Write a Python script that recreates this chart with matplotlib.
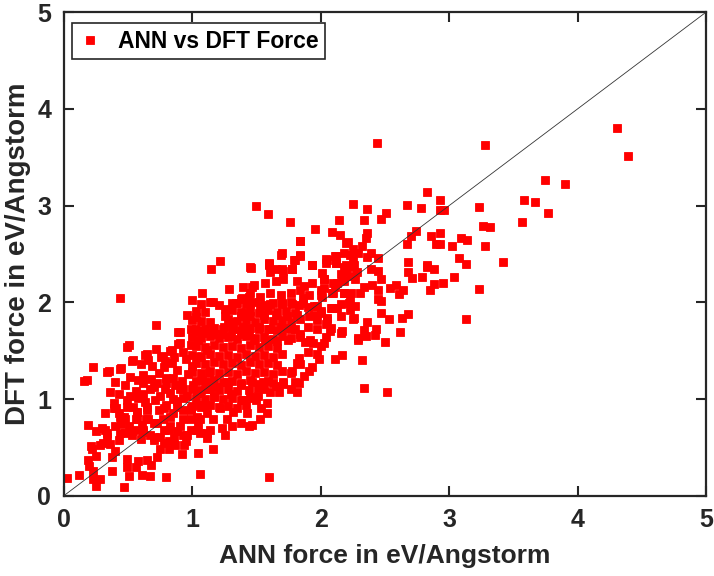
import matplotlib
matplotlib.use("Agg")
import matplotlib.pyplot as plt

# ---- data (ANN force, DFT force) in eV/Angstrom ----
sparse_high = [(3.28,3.63),(4.39,3.51),(4.31,3.80),(3.75,3.26),(3.90,3.22),(3.58,3.06),(3.67,3.04),
    (3.77,2.92),(3.57,2.83),(3.23,2.99),(2.93,3.06),(2.93,2.95),(2.96,2.95),(3.26,2.79),(3.32,2.78),
    (3.09,2.67),(3.14,2.64),(2.93,2.60),(3.02,2.58),(3.28,2.58),(3.08,2.46),(3.13,2.40),(3.42,2.42),
    (3.04,2.26),(2.95,2.20),(3.23,2.14),(3.13,1.83)]

upper_band = [(2.44,3.65),(1.50,3.00),(1.59,2.91),(1.76,2.83),(1.96,2.76),(2.25,3.02),(2.36,2.97),
    (2.14,2.85),(2.34,2.85),(2.51,2.92),(2.47,2.86),(2.67,3.01),(2.78,2.98),(2.83,3.14),(2.09,2.73),
    (2.15,2.70),(2.36,2.72),(2.35,2.67),(1.84,2.63),(2.20,2.61),(2.32,2.58),(2.25,2.55),(2.74,2.74),
    (2.70,2.69),(2.86,2.69),(2.93,2.72),(2.67,2.60),(2.90,2.60),(1.69,2.49),(1.84,2.48),(1.80,2.44),
    (2.04,2.45),(2.11,2.48),(2.18,2.51),(2.12,2.41),(2.25,2.43),(2.36,2.47),(2.39,2.51),(2.45,2.46),
    (2.68,2.42),(2.83,2.39),(1.60,2.40),(1.93,2.39)]

left_upper = [(1.15,2.35),(1.22,2.43),(1.46,2.36),(0.44,2.05),(1.29,2.14),(1.08,2.10),(1.00,2.02),
    (1.16,2.00),(1.40,2.16),(1.47,2.16),(1.38,2.04),(1.44,2.06),(1.31,1.99),(1.26,1.93),(1.26,1.86),
    (0.72,1.77),(0.96,1.87),(1.03,1.85),(1.14,1.80),(1.16,1.73),(0.89,1.69),(0.99,1.72),(1.05,1.70),
    (0.49,1.54),(0.63,1.46),(0.76,1.44),(0.83,1.50),(0.89,1.57),(0.53,1.39),(0.23,1.33),(0.34,1.28),
    (0.44,1.31),(0.16,1.19),(1.31,1.80),(1.38,1.86),(1.43,1.89),(1.25,1.75),(1.32,1.72),(1.40,1.75),
    (1.17,1.67),(1.23,1.67),(1.30,1.65),(1.38,1.67),(1.44,1.67),(1.34,1.99),(1.39,2.05)]

right_mid = [(2.32,1.40),(2.11,1.42),(2.17,1.46),(2.50,1.59),(2.62,1.69),(2.29,1.61),(2.35,1.65),
    (2.34,1.71),(2.42,1.66),(2.43,1.73),(2.16,1.68),(2.36,1.80),(2.25,1.83),(2.53,1.83),(2.63,1.84),
    (2.68,1.88),(2.47,1.89),(2.47,2.01),(2.45,2.04),(2.54,2.15),(2.59,2.18),(2.64,2.13),(2.61,2.09),
    (2.68,2.31),(2.71,2.25),(2.79,2.26),(2.83,2.37),(2.88,2.35),(2.85,2.13),(2.88,2.19),(2.23,1.92),
    (2.22,1.99),(2.13,1.94),(2.09,1.94),(2.05,1.84),(2.04,1.78),(2.07,1.70),(2.04,1.64),(2.00,1.55),
    (1.97,1.47),(1.99,1.41),(1.93,1.33),(1.91,1.29),(1.87,1.24),(1.82,1.37),(1.78,1.29),(1.83,1.43),
    (1.80,1.18),(1.71,1.18),(1.63,1.17),(1.55,1.18),(1.90,1.49),(1.94,1.58),(1.88,1.59),(2.01,2.06),
    (2.00,2.13),(2.03,2.24),(2.01,2.30),(1.86,2.05),(1.90,1.95),(1.97,1.96),(2.00,1.89),(1.95,1.87),
    (2.18,2.10),(2.24,2.10),(2.31,2.10),(2.34,2.16),(2.40,2.18),(2.45,2.13),(2.39,2.34),(2.45,2.32),
    (2.47,2.24),(2.20,2.32),(2.20,2.39),(2.25,2.37),(2.28,2.31),(2.12,2.41),(2.04,2.41),(2.13,2.20),
    (2.17,2.28),(2.11,2.16),(2.09,2.10),(1.93,2.39),(1.78,2.35),(1.70,2.35),(1.60,2.39)]

low_right = [(2.34,1.12),(2.52,1.07),(1.60,0.20),(1.83,1.17),(1.44,0.72),(1.53,0.79),(1.58,0.86),
    (1.54,0.91),(1.58,0.96),(1.50,0.99),(1.61,1.07),(1.68,1.07),(1.65,1.14),(1.71,1.16),(1.77,1.11),
    (1.82,1.07),(1.52,1.16),(1.44,1.09),(1.51,1.12)]

low_left = [(0.03,0.19),(0.12,0.22),(0.23,0.17),(0.28,0.18),(0.25,0.10),(0.47,0.09),(0.38,0.26),
    (0.51,0.21),(0.61,0.22),(0.67,0.21),(0.80,0.20),(1.06,0.23),(1.16,0.48),(0.92,0.43),(1.05,0.44),
    (0.49,0.30),(0.56,0.30),(0.23,0.26),(0.19,0.37),(0.20,0.31),(0.22,0.49),(0.25,0.41),(0.38,0.40),
    (0.49,0.38),(0.58,0.36),(0.65,0.37),(0.68,0.32),(0.73,0.40),(0.82,0.57),(0.75,0.49),(0.82,0.49),
    (0.87,0.53),(0.94,0.53),(0.21,0.52),(0.28,0.53),(0.19,0.73),(0.30,0.70),(0.25,0.67),(0.34,0.65),
    (0.31,0.55),(0.36,0.54),(0.43,0.58),(0.40,0.46),(0.48,0.65),(0.53,0.63),(0.57,0.68),(0.62,0.66),
    (0.67,0.63),(0.32,0.86),(0.39,0.91),(0.43,0.86),(0.47,0.82),(0.57,0.87),(0.57,0.80),(0.66,0.79),
    (0.61,0.73),(0.73,0.75),(0.78,0.68),(0.75,0.61),(0.70,0.58),(0.88,0.67),(0.93,0.63),(0.99,0.68),
    (1.06,0.65),(1.14,0.68),(1.12,0.60),(1.26,0.63),(1.31,0.72),(1.47,0.73),(1.48,1.01),(0.18,1.20),
    (0.48,1.15),(0.62,1.17),(0.70,1.13),(0.80,1.17),(0.91,1.11),(1.01,1.15),(1.12,1.18),(1.19,1.13),
    (1.27,1.18),(1.38,1.15),(1.47,1.18),(1.51,1.03),(0.43,1.05),(0.52,1.03),(0.62,1.05),(0.75,1.03),
    (0.83,1.06),(0.93,1.01),(1.06,1.06),(1.17,1.03),(1.30,1.05),(1.40,0.99),(0.39,0.96),(0.49,0.92),
    (0.65,0.92),(0.78,0.91),(0.88,0.92),(0.99,0.89),(1.09,0.94),(1.22,0.91),(1.32,0.87),(1.43,0.86),
    (0.83,0.82),(0.93,0.80),(1.04,0.82),(1.16,0.79),(1.27,0.79),(1.38,0.75),(1.23,0.70),(1.05,0.73),
    (0.83,0.72)]

mid_left = [(0.51,1.56),(0.65,1.47),(0.77,1.45),(0.91,1.69),(0.91,1.58),(0.84,1.51),(0.99,1.56),
    (1.05,1.61),(1.10,1.68),(1.04,1.70),(0.54,1.40),(0.60,1.36),(0.69,1.34),(0.78,1.33),(0.35,1.29),
    (0.45,1.32),(0.62,1.25),(0.74,1.27),(0.80,1.22),(0.84,1.37),(0.88,1.30),(0.95,1.41),(1.00,1.34),
    (1.06,1.44),(1.12,1.51),(0.56,1.08),(0.67,1.11),(0.73,1.17),(0.79,1.10),(0.87,1.15),(0.93,1.11),
    (1.08,1.20),(1.13,1.27),(0.49,0.99),(0.58,1.01),(0.54,0.92),(0.41,0.91),(0.44,0.82),(0.48,0.79),
    (0.40,0.72),(0.32,0.68),(0.57,0.87),(0.65,0.89),(0.74,0.89),(0.80,0.94),(0.88,0.98),(0.96,1.03),
    (1.04,1.06),(1.12,1.10),(0.56,0.80),(0.64,0.80),(0.70,0.75),(0.77,0.80),(0.85,0.86),(0.93,0.89),
    (0.99,0.91),(1.06,0.94),(0.34,0.61),(0.44,0.65),(0.53,0.67),(0.62,0.68),(0.70,0.61),(0.82,0.68),
    (0.91,0.72),(0.99,0.79),(1.06,0.79),(1.12,0.86),(1.04,0.68),(0.96,0.63),(1.12,0.65),
    (0.66,1.40),(0.72,1.52),(0.79,1.39),(0.86,1.44),(0.93,1.49),(0.97,1.26),(0.58,1.20),(0.68,1.21),
    (0.85,1.22),(0.92,1.19),(0.52,1.23),(0.40,1.18),(0.36,1.07),(0.63,0.97),(0.71,0.99),(0.85,1.00),
    (0.45,0.74),(0.51,0.72),(0.60,0.59),(0.86,0.60),(0.95,0.57),(0.78,0.55)]

core = [(1.07,1.98),(1.14,2.00),(1.21,1.97),(1.35,1.99),(1.42,1.98),(1.49,2.00),(1.56,1.97),(1.63,1.99),
    (1.70,1.98),(1.77,2.00),(1.83,1.97),
    (1.03,1.91),(1.10,1.90),(1.31,1.92),(1.38,1.90),(1.45,1.91),(1.52,1.89),(1.59,1.92),(1.66,1.90),
    (1.73,1.91),(1.80,1.89),
    (1.00,1.82),(1.07,1.81),(1.28,1.83),(1.35,1.81),(1.42,1.82),(1.49,1.80),(1.56,1.83),(1.63,1.81),
    (1.70,1.82),(1.77,1.80),(1.84,1.83),
    (1.03,1.73),(1.10,1.72),(1.17,1.74),(1.24,1.72),(1.31,1.73),(1.38,1.71),(1.45,1.74),(1.52,1.72),
    (1.59,1.73),(1.66,1.71),(1.73,1.74),(1.80,1.72),
    (1.00,1.64),(1.07,1.63),(1.14,1.65),(1.21,1.63),(1.28,1.64),(1.35,1.62),(1.42,1.65),(1.49,1.63),
    (1.56,1.64),(1.63,1.62),(1.70,1.65),(1.77,1.63),(1.84,1.64),
    (1.03,1.55),(1.10,1.54),(1.17,1.56),(1.24,1.54),(1.31,1.55),(1.38,1.53),(1.45,1.56),(1.52,1.54),
    (1.59,1.55),(1.66,1.53),
    (1.00,1.46),(1.07,1.45),(1.14,1.47),(1.21,1.45),(1.28,1.46),(1.35,1.44),(1.42,1.47),(1.49,1.45),
    (1.56,1.46),(1.63,1.44),(1.70,1.47),
    (1.03,1.37),(1.10,1.36),(1.17,1.38),(1.24,1.36),(1.31,1.37),(1.38,1.35),(1.45,1.38),(1.52,1.36),
    (1.59,1.37),(1.66,1.35),(1.84,1.36),
    (1.00,1.28),(1.07,1.27),(1.14,1.29),(1.21,1.27),(1.28,1.28),(1.35,1.26),(1.42,1.29),(1.49,1.27),
    (1.56,1.28),(1.63,1.26),(1.70,1.29),(1.77,1.27),
    (1.03,1.19),(1.10,1.18),(1.17,1.20),(1.24,1.18),(1.31,1.19),(1.38,1.17),(1.45,1.20),(1.59,1.19),
    (1.00,1.10),(1.07,1.09),(1.14,1.11),(1.21,1.09),(1.28,1.10),(1.35,1.08),(1.56,1.10),
    (1.03,1.01),(1.10,1.00),(1.17,1.02),(1.24,1.00),(1.31,1.01),(1.38,0.99),(1.45,1.02),
    (1.00,0.93),(1.07,0.92),(1.14,0.94),(1.21,0.92),(1.28,0.93),(1.35,0.91),(1.42,0.94)]

mid_band = [(1.84,2.63),(1.70,2.51),(1.60,2.41),(1.45,2.37),(1.79,2.44),(1.84,2.49),(1.93,2.39),
    (1.65,2.34),(1.71,2.32),(1.78,2.34),(1.61,2.31),(1.48,2.18),(1.57,2.20),(1.65,2.22),(1.71,2.24),
    (1.82,2.22),(1.87,2.17),(1.93,2.20),(2.03,2.24),(2.05,2.44),(2.12,2.48),(2.21,2.62),(2.23,2.49),
    (2.29,2.51),(2.18,2.37),(2.26,2.39),(2.16,2.29),(2.23,2.27),(2.10,2.20),(2.18,2.22),(2.27,2.24),
    (1.45,2.10),(1.53,2.06),(1.61,2.10),(1.69,2.08),(1.77,2.10),(1.84,2.13),(1.91,2.08),(2.00,2.08),
    (2.03,2.15),(2.10,2.10),(2.18,2.10),(2.23,2.03),(2.27,1.96),(2.16,1.98),(2.08,1.94),(1.45,1.99),
    (1.53,1.96),(1.61,1.98),(1.70,1.99),(1.78,1.98),(1.86,1.99),(1.95,1.96),(2.00,1.91),(2.05,1.82),
    (2.16,1.86),(2.26,1.84),(2.17,1.70),(2.29,1.63),(2.08,1.74),(1.97,1.72),(1.90,1.75),(1.84,1.67),
    (1.77,1.72),(1.69,1.75),(1.61,1.72),(1.52,1.75),(1.45,1.86),(1.56,1.87),(1.65,1.87),(1.74,1.86),
    (1.82,1.87),(1.91,1.86),(1.97,1.82),(1.48,1.61),(1.57,1.61),(1.66,1.60),(1.75,1.61),(1.92,1.61),
    (2.03,1.58)]

all_points = (sparse_high + upper_band + left_upper + right_mid + low_right +
              low_left + mid_left + core + mid_band)
ann_force = [p[0] for p in all_points]
dft_force = [p[1] for p in all_points]

axis_ticks = [0, 1, 2, 3, 4, 5]
legend_label = "ANN vs DFT Force"
x_label = "ANN force in eV/Angstorm"
y_label = "DFT force in eV/Angstorm"

plt.rcParams['font.family'] = ['Liberation Sans', 'DejaVu Sans']
plt.rcParams['font.weight'] = 'bold'

fig = plt.figure(figsize=(7.14, 5.76), dpi=100)
ax = fig.add_axes([0.089, 0.139, 0.900, 0.840])

ax.plot(ann_force, dft_force, linestyle='none', marker='s', markersize=6.4,
        markerfacecolor='#ff0000', markeredgecolor='#ff0000', markeredgewidth=0.6,
        label=legend_label, zorder=2)
ax.plot([0, 5], [0, 5], color='#333333', linewidth=0.6, zorder=3)

ax.set_xlim(0, 5)
ax.set_ylim(0, 5)
ax.set_xticks(axis_ticks)
ax.set_yticks(axis_ticks)
ax.tick_params(direction='in', top=True, right=True, length=7, width=1.5,
               labelsize=18, colors='#262626')
ax.tick_params(axis='x', pad=9)
ax.tick_params(axis='y', pad=9)
for lab in ax.get_xticklabels() + ax.get_yticklabels():
    lab.set_fontweight('bold')
for sp in ax.spines.values():
    sp.set_linewidth(1.6)
    sp.set_color('#262626')

ax.set_xlabel(x_label, fontsize=19, fontweight='bold', color='#262626', labelpad=8)
ax.set_ylabel(y_label, fontsize=20, fontweight='bold', color='#262626', labelpad=4)

leg = ax.legend(loc='upper left', bbox_to_anchor=(0.013, 0.978), borderaxespad=0,
                fancybox=False, framealpha=1, edgecolor='#262626',
                prop={'weight': 'bold', 'size': 16.5}, handlelength=1.0,
                handletextpad=0.7, borderpad=0.3)
leg.get_frame().set_linewidth(1.2)

fig.savefig("out.png", dpi=100)
